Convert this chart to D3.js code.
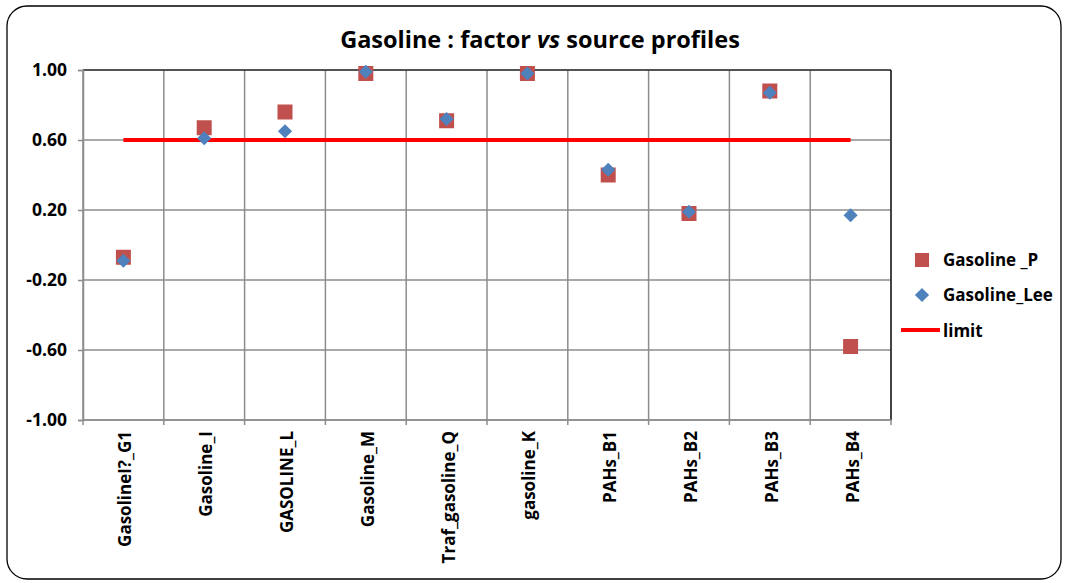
<!DOCTYPE html>
<html>
<head>
<meta charset="utf-8">
<script src="https://cdn.jsdelivr.net/npm/d3@7"></script>
<style>
  body { margin: 0; background: #fff; }
  text { font-family: "Open Sans", Lato, sans-serif; font-weight: bold; }
</style>
</head>
<body>
<div id="chart"></div>
<script>
// data
var categories = ["GasolineI?_G1", "Gasoline_I", "GASOLINE_L", "Gasoline_M", "Traf_gasoline_Q",
                  "gasoline_K", "PAHs_B1", "PAHs_B2", "PAHs_B3", "PAHs_B4"];
var gasolineP   = [-0.07, 0.67, 0.76, 0.98, 0.71, 0.98, 0.40, 0.18, 0.88, -0.58];
var gasolineLee = [-0.09, 0.61, 0.65, 0.99, 0.72, 0.98, 0.43, 0.19, 0.87, 0.17];
var limitValue = 0.6;
var yTicks = [1.0, 0.6, 0.2, -0.2, -0.6, -1.0];

var W = 1068, H = 583;
var margin = { top: 70, left: 83, right: 177, bottom: 163 };
var width = W - margin.left - margin.right,
    height = H - margin.top - margin.bottom;

var svg = d3.select("#chart").append("svg")
    .attr("width", W).attr("height", H);

// rounded chart frame
svg.append("rect")
    .attr("x", 7).attr("y", 6).attr("width", W - 14).attr("height", H - 10)
    .attr("rx", 20).attr("ry", 20)
    .attr("fill", "#fff").attr("stroke", "#000").attr("stroke-width", 1.3);

var title = svg.append("text")
    .attr("x", 540).attr("y", 48)
    .attr("text-anchor", "middle")
    .style("font-size", "23.5px");
title.append("tspan").text("Gasoline : factor ");
title.append("tspan").style("font-style", "italic").text("vs");
title.append("tspan").text(" source profiles");

var g = svg.append("g").attr("transform", "translate(" + margin.left + "," + margin.top + ")");

var x = d3.scaleBand().domain(categories).range([0, width]);
var y = d3.scaleLinear().domain([-1, 1]).range([height, 0]);

// horizontal gridlines
g.append("g").selectAll("line").data(yTicks).enter().append("line")
    .attr("x1", 0).attr("x2", width)
    .attr("y1", function(d) { return y(d); }).attr("y2", function(d) { return y(d); })
    .attr("stroke", "#8c8c8c").attr("stroke-width", 1.5);

// vertical gridlines at category boundaries
var bounds = categories.map(function(c) { return x(c); }).concat([width]);
g.append("g").selectAll("line").data(bounds).enter().append("line")
    .attr("x1", function(d) { return d; }).attr("x2", function(d) { return d; })
    .attr("y1", 0).attr("y2", height)
    .attr("stroke", "#8c8c8c").attr("stroke-width", 1.5);

// plot area border top/right
g.append("line").attr("x1", 0).attr("x2", width).attr("y1", 0).attr("y2", 0)
    .attr("stroke", "#000").attr("stroke-width", 1.2);
g.append("line").attr("x1", width).attr("x2", width).attr("y1", 0).attr("y2", height)
    .attr("stroke", "#000").attr("stroke-width", 1.2);

// y axis
var fmt = d3.format(".2f");
var yAxis = g.append("g")
    .call(d3.axisLeft(y).tickValues(yTicks)
      .tickFormat(function(d) { return fmt(d).replace("\u2212", "-"); })
      .tickSize(5).tickPadding(11));
yAxis.select(".domain").attr("stroke", "#8c8c8c").attr("stroke-width", 1.5);
yAxis.selectAll(".tick line").attr("stroke", "#8c8c8c").attr("stroke-width", 1.5);
yAxis.selectAll("text").style("font-size", "17.5px").attr("fill", "#000");

// x axis with ticks at boundaries
var xAxisG = g.append("g").attr("transform", "translate(0," + height + ")");
xAxisG.append("line").attr("x1", 0).attr("x2", width)
    .attr("stroke", "#8c8c8c").attr("stroke-width", 1.5);
xAxisG.selectAll(".bt").data(bounds).enter().append("line")
    .attr("x1", function(d) { return d; }).attr("x2", function(d) { return d; })
    .attr("y1", 0).attr("y2", 5)
    .attr("stroke", "#8c8c8c").attr("stroke-width", 1.5);
xAxisG.selectAll(".lbl").data(categories).enter().append("text")
    .attr("transform", function(d) {
      return "translate(" + (x(d) + x.bandwidth() / 2 + 8) + ",11) rotate(-90)";
    })
    .attr("text-anchor", "end")
    .style("font-size", "17px")
    .text(function(d) { return d; });

// limit line
var cx = function(d, i) { return x(categories[i]) + x.bandwidth() / 2; };
var line = d3.line()
    .x(function(d, i) { return cx(d, i); })
    .y(function(d) { return y(d); });
g.append("path")
    .datum(categories.map(function() { return limitValue; }))
    .attr("d", line)
    .attr("fill", "none").attr("stroke", "#ff0000").attr("stroke-width", 4);

// Gasoline _P squares
var sq = 15;
g.append("g").selectAll("rect").data(gasolineP).enter().append("rect")
    .attr("x", function(d, i) { return cx(d, i) - sq / 2; })
    .attr("y", function(d) { return y(d) - sq / 2; })
    .attr("width", sq).attr("height", sq)
    .attr("fill", "#C0504D");

// Gasoline_Lee diamonds
var diamond = d3.symbol().type(d3.symbolSquare).size(100);
g.append("g").selectAll("path").data(gasolineLee).enter().append("path")
    .attr("d", diamond)
    .attr("transform", function(d, i) { return "translate(" + cx(d, i) + "," + y(d) + ") rotate(45)"; })
    .attr("fill", "#4F81BD");

// legend
var lg = svg.append("g");
lg.append("rect").attr("x", 915).attr("y", 253).attr("width", 14).attr("height", 14).attr("fill", "#C0504D");
lg.append("text").attr("x", 943).attr("y", 266).style("font-size", "17px").text("Gasoline _P");
lg.append("path").attr("d", diamond)
    .attr("transform", "translate(922,295) rotate(45)").attr("fill", "#4F81BD");
lg.append("text").attr("x", 943).attr("y", 301).style("font-size", "17px").text("Gasoline_Lee");
lg.append("line").attr("x1", 901).attr("x2", 940).attr("y1", 330).attr("y2", 330)
    .attr("stroke", "#ff0000").attr("stroke-width", 4);
lg.append("text").attr("x", 943).attr("y", 337).style("font-size", "17px").text("limit");
</script>
</body>
</html>
